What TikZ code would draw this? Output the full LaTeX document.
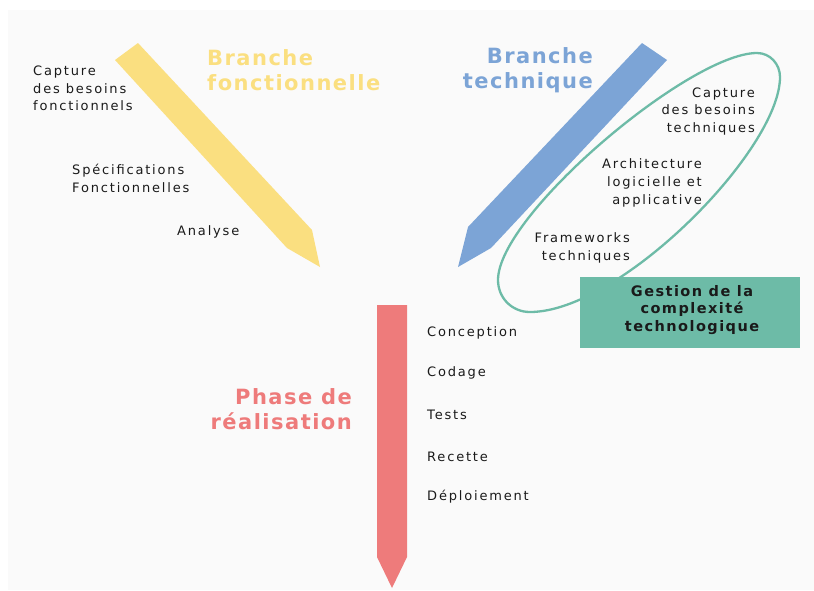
\documentclass[tikz,border=0pt]{standalone}
\usepackage{fontspec}
\setmainfont{DejaVu Sans}
\newfontfamily\titlefont[LetterSpace=7]{DejaVu Sans}
\newfontfamily\boxfont[LetterSpace=10]{DejaVu Sans}
\newfontfamily\smallfont[LetterSpace=14]{DejaVu Sans}
\definecolor{pyellow}{HTML}{FADF80}
\definecolor{pblue}{HTML}{7CA4D6}
\definecolor{pred}{HTML}{EE7B7B}
\definecolor{pgreen}{HTML}{6DBBA7}
\definecolor{bg}{HTML}{FAFAFA}
\definecolor{txt}{HTML}{1A1A1A}
\tikzset{
  title/.style={font=\titlefont\bfseries\fontsize{21}{25}\selectfont, inner sep=0pt},
  item/.style={font=\smallfont\fontsize{13}{17.7}\selectfont, text=txt, inner sep=0pt},
  loop/.style={draw=pgreen, line width=2.3pt},
}
\begin{document}
\begin{tikzpicture}[x=1pt,y=-1pt]
\useasboundingbox (0,0) rectangle (814,590);
\fill[white] (0,0) rectangle (814,590);
\fill[bg] (8,10) rectangle (814,590);
% pencils
\fill[pyellow] (115,60) -- (138,43) -- (312,230) -- (320,267) -- (287,248) -- cycle;
\fill[pblue] (642,43) -- (667,60) -- (491,248) -- (458,267) -- (468,227) -- cycle;
\fill[pred] (377,305) -- (407,305) -- (407,557) -- (392,588) -- (377,557) -- cycle;
% loop around the technical branch
\coordinate (lt) at (757,53);
\coordinate (lr) at (780,77);
\coordinate (lb) at (530,312);
\coordinate (ll) at (498,280);
\draw[loop] (lt) .. controls (770,53) and (780,64) .. (lr)
  .. controls (780,150) and (620,312) .. (lb)
  .. controls (512,312) and (498,298) .. (ll)
  .. controls (498,215) and (690,53) .. (lt) -- cycle;
% titles
\node[title, text=pyellow, anchor=west, align=left] (bf) at (207,70.5) {Branche\\fonctionnelle};
\node[title, text=pblue, anchor=east, align=right] (bt) at (593,70) {Branche\\technique};
\node[title, text=pred, anchor=east, align=right] (pr) at (352,409.5) {Phase de\\réalisation};
% functional branch
\node[item, anchor=west, align=left] (cbf) at (33,88.5) {Capture\\des besoins\\fonctionnels};
\node[item, anchor=west, align=left] (sf) at (72,178.5) {Spécifications\\Fonctionnelles};
\node[item, anchor=west] (an) at (177,232) {Analyse};
% technical branch
\node[item, anchor=east, align=right] (cbt) at (755,111.5) {Capture\\des besoins\\techniques};
\node[item, anchor=east, align=right] (arch) at (702,183) {Architecture\\logicielle et\\applicative};
\node[item, anchor=east, align=right] (fw) at (630,248) {Frameworks\\techniques};
% box
\node[fill=pgreen, minimum width=220pt, minimum height=71pt, inner sep=0pt] (box) at (690,312.5) {};
\node[font=\boxfont\bfseries\fontsize{14.5}{17.5}\selectfont, text=txt, align=center, inner sep=0pt] (boxt) at (692,310) {Gestion de la\\complexité\\technologique};
% realisation
\node[item, anchor=west] (c1) at (427,333) {Conception};
\node[item, anchor=west] (c2) at (427,373) {Codage};
\node[item, anchor=west] (c3) at (427,415) {Tests};
\node[item, anchor=west] (c4) at (427,457) {Recette};
\node[item, anchor=west] (c5) at (427,497) {Déploiement};
\end{tikzpicture}
\end{document}
